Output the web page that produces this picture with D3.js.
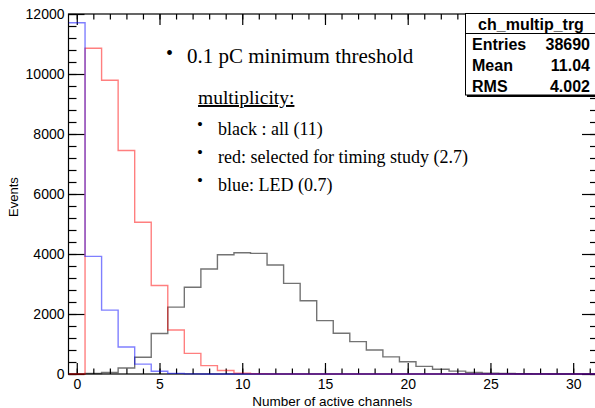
<!DOCTYPE html>
<html>
<head>
<meta charset="utf-8">
<script src="https://cdn.jsdelivr.net/npm/d3@7"></script>
<style>
  html, body { margin: 0; padding: 0; background: #fff; }
  svg { display: block; }
</style>
</head>
<body>
<svg id="chart" width="595" height="408"></svg>
<script>
// Bin contents per channel multiplicity (bin k is centred on k active channels)
const channels = d3.range(0, 32);
const allEvents = [0, 15, 50, 200, 556, 1350, 2230, 2890, 3500, 3975, 4044, 4022,
  3633, 3022, 2444, 1778, 1356, 1078, 800, 570, 410, 255, 160, 95, 55, 30, 15, 8, 4, 0, 0, 0];
const timingEvents = [0, 10856, 9790, 7450, 5060, 2950, 1467, 689, 280, 115, 30, 8,
  0, 0, 0, 0, 0, 0, 0, 0, 0, 0, 0, 0, 0, 0, 0, 0, 0, 0, 0, 0];
const ledEvents = [11710, 3920, 2130, 900, 330, 90, 20, 5,
  0, 0, 0, 0, 0, 0, 0, 0, 0, 0, 0, 0, 0, 0, 0, 0, 0, 0, 0, 0, 0, 0, 0, 0];

const xMajorTicks = [0, 5, 10, 15, 20, 25, 30];
const yMajorTicks = [0, 2000, 4000, 6000, 8000, 10000, 12000];
const yMinorTicks = d3.range(0, 12001, 400);

const statsTitle = "ch_multip_trg";
const statsNames = ["Entries", "Mean", "RMS"];
const statsValues = ["38690", "11.04", "4.002"];

const noteLines = ["black : all (11)", "red: selected for timing study (2.7)", "blue: LED (0.7)"];

const svg = d3.select("#chart");
const frame = { left: 68.5, right: 598, top: 14, bottom: 374 };

const x = d3.scaleLinear().domain([-0.5, 31.5]).range([frame.left, frame.right]);
const y = d3.scaleLinear().domain([0, 12000]).range([frame.bottom, frame.top]);

svg.append("defs").append("clipPath").attr("id", "plotClip")
  .append("rect")
  .attr("x", frame.left).attr("y", frame.top - 1)
  .attr("width", frame.right - frame.left).attr("height", frame.bottom - frame.top + 2);

// Axes: ticks point into the frame on all four sides
const axisFont = "'Liberation Sans', Arial, Helvetica, sans-serif";
function styleAxis(g) {
  g.select(".domain").remove();
  g.selectAll("line").attr("stroke", "#000").attr("stroke-width", 1.2);
  g.selectAll("text").attr("font-family", axisFont).attr("font-size", 14).attr("fill", "#000");
}

svg.append("g").attr("transform", `translate(0,${frame.bottom})`)
  .call(d3.axisBottom(x).tickValues(channels).tickSize(-5.5).tickFormat(""))
  .call(styleAxis);
svg.append("g").attr("transform", `translate(0,${frame.bottom})`)
  .call(d3.axisBottom(x).tickValues(xMajorTicks).tickSize(-11).tickPadding(5).tickFormat(d3.format("d")))
  .call(styleAxis);
svg.append("g").attr("transform", `translate(0,${frame.top})`)
  .call(d3.axisTop(x).tickValues(channels).tickSize(-5.5).tickFormat(""))
  .call(styleAxis);
svg.append("g").attr("transform", `translate(0,${frame.top})`)
  .call(d3.axisTop(x).tickValues(xMajorTicks).tickSize(-11).tickFormat(""))
  .call(styleAxis);

svg.append("g").attr("transform", `translate(${frame.left},0)`)
  .call(d3.axisLeft(y).tickValues(yMinorTicks).tickSize(-8).tickFormat(""))
  .call(styleAxis);
svg.append("g").attr("transform", `translate(${frame.left},0)`)
  .call(d3.axisLeft(y).tickValues(yMajorTicks).tickSize(-16).tickPadding(4).tickFormat(d3.format("d")))
  .call(styleAxis);
svg.append("g").attr("transform", `translate(${frame.right},0)`)
  .call(d3.axisRight(y).tickValues(yMinorTicks).tickSize(-8).tickFormat(""))
  .call(styleAxis);
svg.append("g").attr("transform", `translate(${frame.right},0)`)
  .call(d3.axisRight(y).tickValues(yMajorTicks).tickSize(-16).tickFormat(""))
  .call(styleAxis);

// Frame
svg.append("rect")
  .attr("x", frame.left).attr("y", frame.top)
  .attr("width", frame.right - frame.left).attr("height", frame.bottom - frame.top)
  .attr("fill", "none").attr("stroke", "#000").attr("stroke-width", 1.2);

// Step outline of a histogram: one point per low bin edge, plus the final high edge
function stepPoints(values) {
  const pts = values.map((v, i) => [channels[i] - 0.5, v]);
  pts.push([channels[channels.length - 1] + 0.5, values[values.length - 1]]);
  return pts;
}
const stepLine = d3.line()
  .x(d => x(d[0]))
  .y(d => y(d[1]))
  .curve(d3.curveStepAfter);

const hists = svg.append("g").attr("clip-path", "url(#plotClip)");
[
  { values: allEvents, color: "#000000", opacity: 0.55 },
  { values: timingEvents, color: "#ff0000", opacity: 0.5 },
  { values: ledEvents, color: "#0000ff", opacity: 0.5 }
].forEach(h => {
  hists.append("path")
    .attr("d", stepLine(stepPoints(h.values)))
    .attr("fill", "none")
    .attr("stroke", h.color)
    .attr("stroke-opacity", h.opacity)
    .attr("stroke-width", 1.4);
});

// Axis titles
svg.append("text")
  .attr("x", (frame.left + 596) / 2).attr("y", 405.5)
  .attr("text-anchor", "middle")
  .attr("font-family", axisFont).attr("font-size", 13.5)
  .text("Number of active channels");
svg.append("text")
  .attr("transform", "translate(18,197) rotate(-90)")
  .attr("text-anchor", "middle")
  .attr("font-family", axisFont).attr("font-size", 13)
  .text("Events");

// Statistics box
const box = svg.append("g");
box.append("rect")
  .attr("x", 467).attr("y", 15.5).attr("width", 135).attr("height", 81.5)
  .attr("fill", "#000");
box.append("rect")
  .attr("x", 465.5).attr("y", 13.5).attr("width", 135).attr("height", 81.5)
  .attr("fill", "#fff").attr("stroke", "#000").attr("stroke-width", 1);
box.append("line")
  .attr("x1", 465.5).attr("x2", 600).attr("y1", 33.5).attr("y2", 33.5)
  .attr("stroke", "#000").attr("stroke-width", 1);
box.append("text")
  .attr("x", 531).attr("y", 29.5).attr("text-anchor", "middle")
  .attr("font-family", axisFont).attr("font-size", 16).attr("font-weight", "bold")
  .text(statsTitle);
statsNames.forEach((name, i) => {
  const base = 50 + i * 21;
  box.append("text")
    .attr("x", 472).attr("y", base)
    .attr("font-family", axisFont).attr("font-size", 16).attr("font-weight", "bold")
    .text(name);
  box.append("text")
    .attr("x", 590).attr("y", base).attr("text-anchor", "end")
    .attr("font-family", axisFont).attr("font-size", 16).attr("font-weight", "bold")
    .text(statsValues[i]);
});

// Notes on the selection
const noteFont = "'Liberation Serif', 'DejaVu Serif', serif";
const notes = svg.append("g").attr("font-family", noteFont).attr("fill", "#000");
notes.append("text").attr("x", 166).attr("y", 60).attr("font-size", 20).text("•");
notes.append("text").attr("x", 187).attr("y", 63).attr("font-size", 21)
  .text("0.1 pC minimum threshold");
notes.append("text").attr("x", 198).attr("y", 104).attr("font-size", 19.5)
  .attr("text-decoration", "underline")
  .text("multiplicity:");
noteLines.forEach((t, i) => {
  const base = 135 + i * 28;
  notes.append("text").attr("x", 197).attr("y", base - 5).attr("font-size", 17).text("•");
  notes.append("text").attr("x", 218).attr("y", base).attr("font-size", 18).text(t);
});
</script>
</body>
</html>
